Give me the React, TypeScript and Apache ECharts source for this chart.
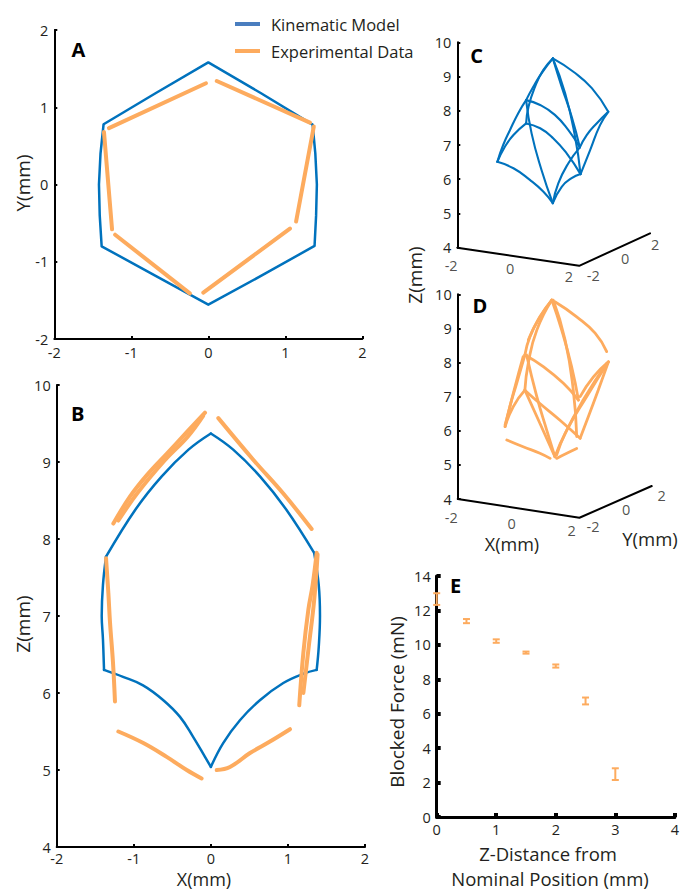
import React, { useEffect, useRef } from 'react';
import * as echarts from 'echarts';

const BLUE = '#0072BD';
const ORANGE = '#FDAB5E';
const LEGEND_BLUE = '#4A7EBF';
const INK = '#231F20';
const FONT = "'Open Sans', sans-serif";

// ---------- Panel A (X-Y, mm) ----------
const A_MODEL: number[][] = [
  [0, 1.58], [0.68, 1.185], [1.355, 0.775], [1.39, 0.4], [1.41, 0], [1.4, -0.4], [1.38, -0.795],
  [0.69, -1.18], [0, -1.555], [-0.69, -1.18], [-1.385, -0.8], [-1.41, -0.4], [-1.42, 0],
  [-1.4, 0.4], [-1.36, 0.78], [-0.68, 1.185], [0, 1.58],
];
const A_EXPERIMENT: number[][][] = [
  [[-1.29, 0.73], [-0.03, 1.31]],
  [[0.11, 1.34], [1.32, 0.8]],
  [[1.37, 0.75], [1.14, -0.48]],
  [[1.06, -0.57], [-0.065, -1.4]],
  [[-0.24, -1.41], [-1.21, -0.65]],
  [[-1.25, -0.58], [-1.355, 0.68]],
];

// ---------- Panel B (X-Z, mm) ----------
const B_MODEL: number[][][] = [
  [[-1.36, 7.77], [-0.98, 8.38], [-0.64, 8.81], [-0.29, 9.16], [0, 9.37]],
  [[0, 9.37], [0.29, 9.16], [0.64, 8.81], [0.98, 8.38], [1.34, 7.82]],
  [[1.34, 7.82], [1.4, 7.4], [1.416, 7.0], [1.4, 6.6], [1.373, 6.3]],
  [[1.373, 6.3], [1.2, 6.25], [0.94, 6.13], [0.64, 5.91], [0.38, 5.65], [0.16, 5.35], [0, 5.04]],
  [[0, 5.04], [-0.076, 5.17], [-0.23, 5.43], [-0.4, 5.69], [-0.62, 5.91], [-0.88, 6.1], [-1.14, 6.21], [-1.386, 6.3]],
  [[-1.386, 6.3], [-1.4, 6.7], [-1.416, 7.0], [-1.4, 7.4], [-1.36, 7.77]],
];
const B_EXPERIMENT: number[][][] = [
  [[-1.265, 8.2], [-1.05, 8.55], [-0.83, 8.83], [-0.57, 9.11], [-0.31, 9.39], [-0.076, 9.64]],
  [[-1.2, 8.24], [-0.95, 8.6], [-0.6, 9.02], [-0.3, 9.33], [-0.1, 9.6]],
  [[0.097, 9.57], [0.55, 9.03], [0.94, 8.59], [1.308, 8.13]],
  [[1.373, 7.82], [1.32, 7.4], [1.265, 7.08], [1.2, 6.52], [1.147, 5.84]],
  [[1.385, 7.8], [1.34, 7.2], [1.27, 6.6], [1.2, 6.0]],
  [[-1.36, 7.75], [-1.33, 7.3], [-1.308, 6.91], [-1.27, 6.4], [-1.244, 5.89]],
  [[-1.2, 5.5], [-0.876, 5.35], [-0.573, 5.17], [-0.313, 5.0], [-0.12, 4.89]],
  [[0.076, 5.0], [0.248, 5.04], [0.508, 5.22], [0.767, 5.37], [1.027, 5.53]],
];

// ---------- Panel C (projected 3-D view; vertical in Z mm) ----------
const C_MODEL: number[][][] = [
  [[1.17, 6.51], [1.34, 7.0], [1.54, 7.44], [1.78, 7.93], [2.01, 8.31]],
  [[2.01, 8.31], [2.22, 8.7], [2.46, 9.09], [2.79, 9.53]],
  [[2.79, 9.53], [2.51, 9.19], [2.27, 8.7], [2.08, 8.12], [2.01, 7.63]],
  [[1.17, 6.51], [1.39, 6.95], [1.64, 7.29], [2.01, 7.63]],
  [[2.01, 8.31], [2.42, 8.17], [2.85, 7.88], [3.24, 7.44], [3.58, 6.93]],
  [[2.01, 7.63], [2.42, 7.49], [2.8, 7.2], [3.19, 6.76], [3.6, 6.15]],
  [[2.79, 9.53], [3.39, 9.14], [3.93, 8.66], [4.41, 7.97]],
  [[4.41, 7.97], [4.07, 7.63], [3.78, 7.29], [3.58, 6.93]],
  [[4.41, 7.97], [4.17, 7.58], [3.88, 6.85], [3.6, 6.15]],
  [[1.17, 6.51], [1.64, 6.32], [2.12, 5.98], [2.51, 5.64], [2.79, 5.3]],
  [[2.79, 5.3], [2.95, 5.88], [3.24, 6.46], [3.58, 6.93]],
  [[2.79, 5.3], [3.05, 5.78], [3.34, 6.03], [3.6, 6.15]],
  [[2.79, 9.53], [3.05, 8.7], [3.34, 7.83], [3.58, 6.93]],
  [[2.79, 9.53], [3.15, 8.51], [3.44, 7.24], [3.6, 6.15]],
  [[2.01, 8.31], [2.17, 7.34], [2.46, 6.27], [2.79, 5.3]],
];
const C_BASE: number[][] = [[0, 4], [3.56, 3.47], [5.63, 4.42]];
const C_X_TICKS = ['-2', '0', '2'];
const C_X_TICK_POS: number[][] = [[-0.18, 3.48], [1.54, 3.4], [3.26, 3.17]];
const C_Y_TICKS = ['-2', '0', '2'];
const C_Y_TICK_POS: number[][] = [[3.97, 3.2], [4.9, 3.69], [5.78, 4.08]];

// ---------- Panel D (projected 3-D view of experimental data) ----------
const D_EXPERIMENT: number[][][] = [
  [[2.76, 9.83], [2.41, 9.34], [2.12, 8.76], [1.97, 8.22]],
  [[2.76, 9.83], [2.36, 9.25], [2.07, 8.66]],
  [[1.97, 8.22], [1.73, 7.39], [1.53, 6.71], [1.39, 6.12]],
  [[1.92, 8.17], [1.68, 7.29], [1.48, 6.51], [1.39, 6.17]],
  [[2.76, 9.83], [2.32, 8.95], [2.07, 7.98], [1.97, 7.19]],
  [[1.39, 6.12], [1.63, 6.71], [1.97, 7.19]],
  [[1.97, 8.22], [2.51, 7.88], [3.1, 7.39], [3.54, 6.9]],
  [[1.97, 7.19], [2.41, 6.8], [3.0, 6.31], [3.59, 5.78]],
  [[2.85, 9.78], [3.49, 9.34], [4.03, 8.86], [4.37, 8.32]],
  [[4.42, 8.02], [3.98, 7.58], [3.59, 7.0]],
  [[4.42, 8.02], [4.12, 7.19], [3.83, 6.41], [3.59, 5.78]],
  [[4.42, 8.02], [3.78, 7.0], [3.2, 6.02], [2.85, 5.24]],
  [[4.37, 7.98], [3.68, 6.9], [3.15, 5.92], [2.9, 5.29]],
  [[2.76, 9.83], [3.05, 8.95], [3.34, 7.88], [3.54, 6.9]],
  [[2.8, 9.83], [3.15, 8.66], [3.39, 7.19], [3.49, 5.83]],
  [[2.02, 8.22], [2.32, 7.0], [2.61, 6.02], [2.85, 5.24]],
  [[1.97, 7.19], [2.41, 6.22], [2.85, 5.24]],
  [[1.44, 5.73], [1.92, 5.53], [2.41, 5.34], [2.71, 5.19]],
  [[2.9, 5.19], [3.2, 5.34], [3.49, 5.48]],
];
const D_BASE: number[][] = [[0, 4], [3.57, 3.45], [5.69, 4.38]];
const D_X_TICKS = ['-2', '0', '2'];
const D_X_TICK_POS: number[][] = [[-0.19, 3.47], [1.58, 3.27], [3.34, 3.09]];
const D_Y_TICKS = ['-2', '0', '2'];
const D_Y_TICK_POS: number[][] = [[3.97, 3.18], [4.94, 3.68], [5.98, 4.11]];

// ---------- Panel E (blocked force) ----------
const E_DISTANCE = [0, 0.5, 1, 1.5, 2, 2.5, 3];
const E_FORCE = [12.66, 11.38, 10.22, 9.55, 8.77, 6.74, 2.49];
const E_ERROR = [0.34, 0.12, 0.1, 0.06, 0.09, 0.2, 0.34];

const LEGEND_NAMES = ['Kinematic Model', 'Experimental Data'];

function axis(gridIndex: number, min: number, max: number, interval: number, lw = 2, tw = 2, tl = 3, margin = 6) {
  return {
    type: 'value', gridIndex, min, max, interval,
    axisLine: { show: true, onZero: false, lineStyle: { color: '#000', width: lw } },
    axisTick: { show: true, inside: true, length: tl, lineStyle: { color: '#000', width: tw } },
    axisLabel: { show: true, margin, fontSize: 14.5, fontFamily: FONT, color: INK },
    splitLine: { show: false },
  };
}
function hiddenAxis(gridIndex: number, min: number, max: number) {
  return { type: 'value', gridIndex, min, max, show: false, splitLine: { show: false } };
}
function line(data: number[][], gi: number, color: string, width: number, name: string, smooth: boolean | number, clip = true) {
  return {
    type: 'line', name, xAxisIndex: gi, yAxisIndex: gi, data, showSymbol: false, symbol: 'none',
    smooth, clip, silent: true,
    lineStyle: { color, width, cap: 'round', join: 'round' }, itemStyle: { color },
  };
}
function labels(names: string[], pos: number[][], gi: number) {
  return {
    type: 'scatter', xAxisIndex: gi, yAxisIndex: gi, symbolSize: 1, clip: false, silent: true,
    itemStyle: { color: 'transparent' },
    label: { show: true, position: 'inside', formatter: '{b}', fontSize: 14.5, fontFamily: FONT, color: INK },
    data: names.map((n, i) => ({ name: n, value: pos[i] })),
  };
}
function txt(text: string, x: number, y: number, size: number, rot = 0, bold = false) {
  return {
    type: 'text', x, y, rotation: rot, silent: true,
    style: {
      text, fontSize: size, fontFamily: FONT, fontWeight: bold ? 'bold' : 'normal',
      fill: bold ? '#000' : INK, align: 'center', verticalAlign: 'middle',
      textAlign: 'center', textVerticalAlign: 'middle',
    },
  };
}

function buildOption() {
  const series: any[] = [];
  series.push(line(A_MODEL, 0, BLUE, 2.5, LEGEND_NAMES[0], false));
  A_EXPERIMENT.forEach((s) => series.push(line(s, 0, ORANGE, 4, LEGEND_NAMES[1], false)));
  B_MODEL.forEach((s) => series.push(line(s, 1, BLUE, 2.5, LEGEND_NAMES[0], 0.4)));
  B_EXPERIMENT.forEach((s) => series.push(line(s, 1, ORANGE, 4, LEGEND_NAMES[1], 0.4)));
  C_MODEL.forEach((s) => series.push(line(s, 2, BLUE, 2.1, LEGEND_NAMES[0], 0.5, false)));
  series.push(line(C_BASE, 2, '#000', 2, 'C axes', false, false));
  series.push(labels(C_X_TICKS, C_X_TICK_POS, 2));
  series.push(labels(C_Y_TICKS, C_Y_TICK_POS, 2));
  D_EXPERIMENT.forEach((s) => series.push(line(s, 3, ORANGE, 2.8, LEGEND_NAMES[1], 0.5, false)));
  series.push(line(D_BASE, 3, '#000', 2, 'D axes', false, false));
  series.push(labels(D_X_TICKS, D_X_TICK_POS, 3));
  series.push(labels(D_Y_TICKS, D_Y_TICK_POS, 3));
  series.push({
    type: 'custom', name: 'Blocked Force', xAxisIndex: 4, yAxisIndex: 4, z: 10, clip: false, silent: true,
    data: E_DISTANCE.map((x, i) => [x, E_FORCE[i] - E_ERROR[i], E_FORCE[i] + E_ERROR[i]]),
    encode: { x: 0, y: [1, 2] },
    renderItem: (_p: any, api: any) => {
      const x = api.value(0);
      const lo = api.coord([x, api.value(1)]);
      const hi = api.coord([x, api.value(2)]);
      const w = 3.5;
      const style = { stroke: ORANGE, lineWidth: 2, fill: 'none' };
      return {
        type: 'group',
        children: [
          { type: 'line', shape: { x1: hi[0], y1: hi[1], x2: lo[0], y2: lo[1] }, style },
          { type: 'line', shape: { x1: hi[0] - w, y1: hi[1], x2: hi[0] + w, y2: hi[1] }, style },
          { type: 'line', shape: { x1: lo[0] - w, y1: lo[1], x2: lo[0] + w, y2: lo[1] }, style },
        ],
      };
    },
  });

  return {
    animation: false,
    backgroundColor: '#fff',
    textStyle: { fontFamily: FONT },
    legend: {
      show: true, orient: 'vertical', left: 230, top: 9, itemWidth: 25, itemHeight: 4, itemGap: 7,
      icon: 'rect', selectedMode: false,
      textStyle: { fontSize: 16.5, fontFamily: FONT, color: INK, lineHeight: 20, padding: [0, 0, 0, 6] },
      data: [
        { name: LEGEND_NAMES[0], itemStyle: { color: LEGEND_BLUE } },
        { name: LEGEND_NAMES[1], itemStyle: { color: ORANGE } },
      ],
    },
    grid: [
      { left: 54.3, top: 30, width: 308, height: 309 },
      { left: 56.7, top: 385, width: 308.3, height: 462 },
      { left: 457.3, top: 42.3, width: 205.4, height: 205.4 },
      { left: 457.7, top: 294.3, width: 204.6, height: 204.7 },
      { left: 436.7, top: 576, width: 241, height: 241 },
    ],
    xAxis: [
      axis(0, -2, 2, 1),
      axis(1, -2, 2, 1, 2, 2, 3, 4),
      hiddenAxis(2, 0, 6),
      hiddenAxis(3, 0, 6),
      axis(4, 0, 4, 1, 3, 4, 4, 5),
    ],
    yAxis: [
      axis(0, -2, 2, 1),
      axis(1, 4, 10, 1),
      axis(2, 4, 10, 1),
      axis(3, 4, 10, 1),
      axis(4, 0, 14, 2, 3, 4, 4),
    ],
    graphic: [
      txt('A', 78.3, 49.7, 20, 0, true),
      txt('B', 77.7, 413.3, 20, 0, true),
      txt('C', 476.7, 55.5, 20, 0, true),
      txt('D', 480, 305.8, 20, 0, true),
      txt('E', 455.5, 585, 20, 0, true),
      txt('Y(mm)', 22.5, 183, 19, Math.PI / 2),
      txt('Z(mm)', 22.5, 624, 19, Math.PI / 2),
      txt('X(mm)', 204, 879, 18),
      txt('Z(mm)', 415, 275, 19, Math.PI / 2),
      txt('X(mm)', 512, 544, 18),
      txt('Y(mm)', 650, 538, 18.5),
      txt('Blocked Force (mN)', 397, 702, 19, Math.PI / 2),
      txt('Z-Distance from', 548, 853, 18.5),
      txt('Nominal Position (mm)', 550, 878, 18.5),
    ],
    series,
  };
}

export default function App() {
  const ref = useRef<HTMLDivElement>(null);
  useEffect(() => {
    document.body.style.margin = '0';
    const chart = echarts.init(ref.current!, null, { renderer: 'svg' });
    chart.setOption(buildOption() as any);
    return () => chart.dispose();
  }, []);
  return <div ref={ref} style={{ position: 'absolute', left: 0, top: 0, width: 682, height: 891, background: '#fff' }} />;
}
